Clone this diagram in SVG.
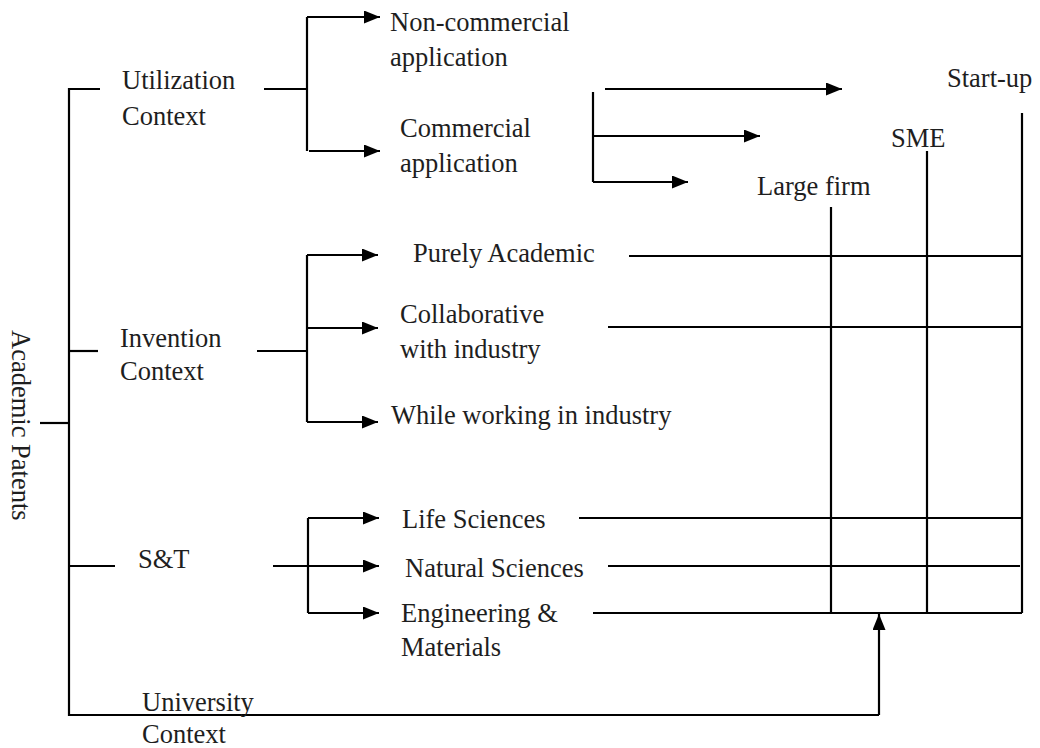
<svg xmlns="http://www.w3.org/2000/svg" width="1040" height="748" viewBox="0 0 1040 748">
<style>
text{font-family:"Liberation Serif","Times New Roman",serif;font-size:26.5px;fill:#1e1e1e}
.ln{fill:none;stroke:#000;stroke-width:2.2}
.ar{fill:none;stroke:#000;stroke-width:2.2;marker-end:url(#ah)}
</style>
<defs>
<marker id="ah" markerUnits="userSpaceOnUse" markerWidth="17" markerHeight="14" refX="16" refY="6.5" orient="auto">
<path d="M0,0 L16,6.5 L0,13 z" fill="#000"/>
</marker>
</defs>
<rect width="1040" height="748" fill="#fff"/>
<g id="connectors">
<!-- main spine -->
<path class="ln" d="M100,89 H69 V715 H879"/>
<path class="ln" d="M40,423 H69"/>
<path class="ln" d="M69,351 H98"/>
<path class="ln" d="M69,566 H115"/>
<path class="ar" d="M879,715 V614"/>
<!-- utilization branch -->
<path class="ln" d="M264,89 H307"/>
<path class="ln" d="M307,17 V151"/>
<path class="ar" d="M307,17 H380"/>
<path class="ar" d="M309,151 H380"/>
<!-- commercial branch -->
<path class="ln" d="M593,92 V182"/>
<path class="ar" d="M605,89 H842"/>
<path class="ar" d="M593,136 H760"/>
<path class="ar" d="M593,182 H688"/>
<!-- invention branch -->
<path class="ln" d="M257,351 H307"/>
<path class="ln" d="M307,255 V422"/>
<path class="ar" d="M307,255 H378"/>
<path class="ar" d="M307,328 H378"/>
<path class="ar" d="M307,422 H378"/>
<!-- S&T branch -->
<path class="ln" d="M273,566 H308"/>
<path class="ln" d="M308,518 V613"/>
<path class="ar" d="M308,518 H379"/>
<path class="ar" d="M308,566 H379"/>
<path class="ar" d="M308,613 H379"/>
<!-- grid -->
<path class="ln" d="M629,256 H1022"/>
<path class="ln" d="M608,327 H1022"/>
<path class="ln" d="M579,518 H1022"/>
<path class="ln" d="M608,566 H1020"/>
<path class="ln" d="M593,613 H1022"/>
<path class="ln" d="M831,207 V613"/>
<path class="ln" d="M927,151 V613"/>
<path class="ln" d="M1022,113 V613"/>
</g>
<g id="academic-patents"><text transform="translate(12,330) rotate(90)">Academic Patents</text></g>
<g id="utilization-context"><text x="122" y="89">Utilization</text><text x="122" y="125">Context</text></g>
<g id="non-commercial"><text x="390" y="31">Non-commercial</text><text x="390" y="66">application</text></g>
<g id="commercial"><text x="400" y="137">Commercial</text><text x="400" y="172">application</text></g>
<g id="start-up"><text x="947" y="87">Start-up</text></g>
<g id="sme"><text x="891" y="147">SME</text></g>
<g id="large-firm"><text x="757" y="195">Large firm</text></g>
<g id="invention-context"><text x="120" y="347">Invention</text><text x="120" y="380">Context</text></g>
<g id="purely-academic"><text x="413" y="262">Purely Academic</text></g>
<g id="collaborative"><text x="400" y="323">Collaborative</text><text x="400" y="358">with industry</text></g>
<g id="while-working"><text x="391" y="424">While working in industry</text></g>
<g id="st"><text x="138" y="568">S&amp;T</text></g>
<g id="life-sciences"><text x="402" y="528">Life Sciences</text></g>
<g id="natural-sciences"><text x="405" y="577">Natural Sciences</text></g>
<g id="engineering"><text x="401" y="622">Engineering &amp;</text><text x="401" y="656">Materials</text></g>
<g id="university-context"><text x="142" y="711">University</text><text x="142" y="743">Context</text></g>
</svg>
